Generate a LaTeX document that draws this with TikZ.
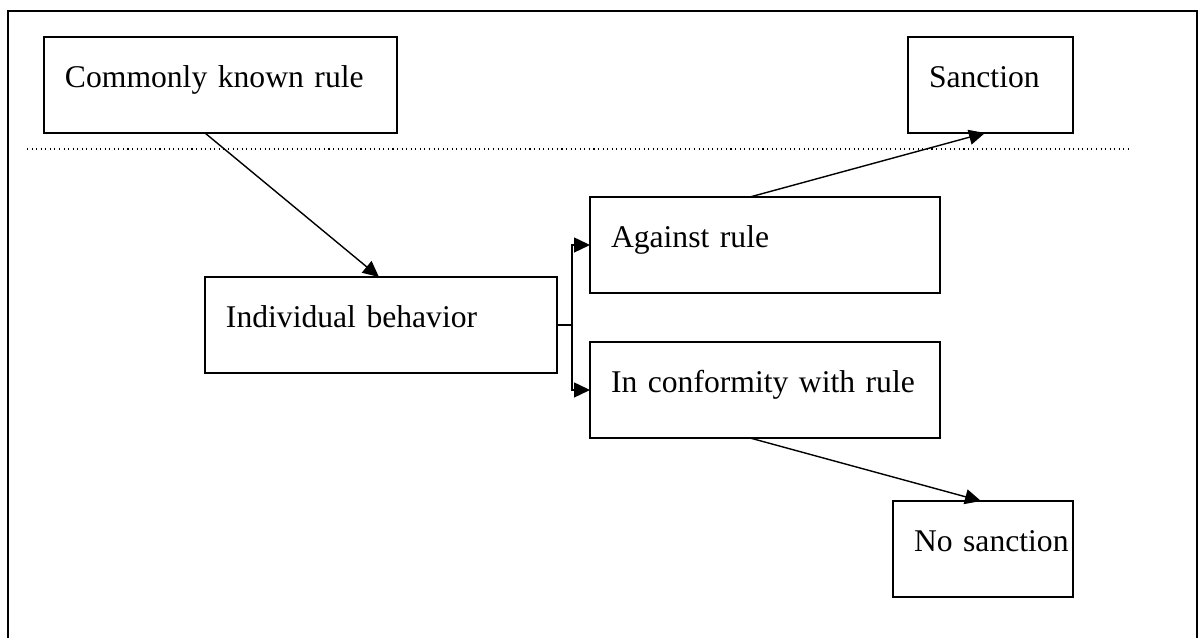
\documentclass[tikz,border=0pt]{standalone}
\usepackage{fontspec}
\setmainfont{Liberation Serif}
\usetikzlibrary{arrows.meta}
\newcommand\boxfont{\fontsize{18}{21}\selectfont}
\begin{document}
\begin{tikzpicture}[x=0.02cm, y=-0.02cm, >={Triangle[length=0.32cm,width=0.3cm]},
    box/.style={draw, line width=0.8pt, anchor=north west, outer sep=0pt, inner xsep=0.42cm, inner ysep=0pt,
        text height=1.02cm, text depth=0.9cm, align=left, font=\boxfont},
    link/.style={->, line width=0.8pt}]
\useasboundingbox (0,0) rectangle (1200,638);
% frame and dotted divider
\draw[line width=0.8pt] (8,638) |- (1197,11) -- (1197,638);
\draw[dotted, line width=0.6pt] (27,149) -- (1131,149);

\node[box, text width=6.22cm] (rule) at (44,37) {Commonly known rule};
\node[box, text width=2.46cm] (sanction) at (908,37) {Sanction};
\node[box, text width=6.2cm] (behav) at (205,277) {Individual behavior};
\node[box, text width=6.16cm] (against) at (590,197) {Against rule};
\node[box, text width=6.16cm] (conform) at (590,342) {\mbox{In conformity with rule}};
\node[box, text width=2.76cm] (nosanction) at (893,501) {\mbox{No sanction}};

\draw[link] ([xshift=3.22cm]rule.south west) -- ([xshift=3.48cm]behav.north west);
\draw[line width=0.8pt] (behav.east) -- ++(15,0) coordinate (fork);
\draw[link] (fork) |- (against.west);
\draw[link] (fork) |- (conform.west);
\draw[link] ([xshift=3.2cm]against.north west) -- ([xshift=1.54cm]sanction.south west);
\draw[link] ([xshift=3.2cm]conform.south west) -- ([xshift=1.76cm]nosanction.north west);
\end{tikzpicture}
\end{document}
